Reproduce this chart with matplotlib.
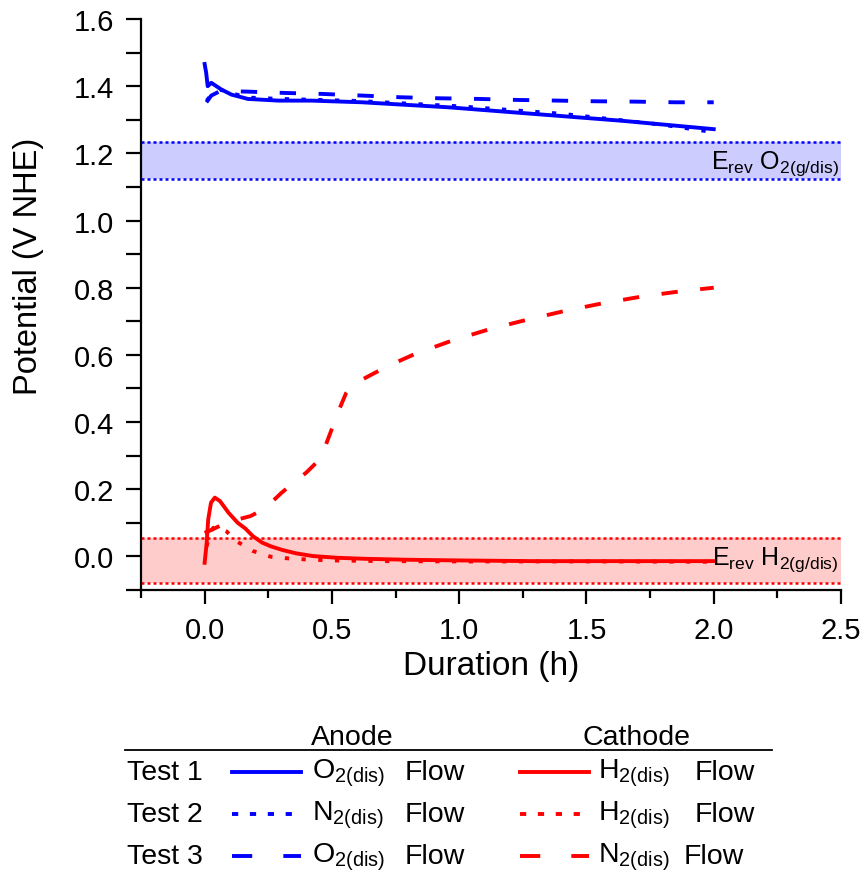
import matplotlib
matplotlib.use("Agg")
import matplotlib.pyplot as plt
from matplotlib.lines import Line2D
from matplotlib.ticker import MultipleLocator, FormatStrFormatter

plt.rcParams['font.family'] = ['Liberation Sans', 'DejaVu Sans']
plt.rcParams['mathtext.fontset'] = 'custom'
plt.rcParams['mathtext.rm'] = 'Liberation Sans'
plt.rcParams['mathtext.it'] = 'Liberation Sans:italic'
plt.rcParams['mathtext.bf'] = 'Liberation Sans:bold'

# ---- data (duration in h, potential in V NHE) ----
t1_anode_t = [0.0, 0.006, 0.012, 0.026, 0.066, 0.105, 0.17, 0.22, 0.29, 0.42, 0.62, 0.96, 1.3, 1.64, 2.0]
t1_anode_v = [1.466, 1.44, 1.40, 1.41, 1.39, 1.375, 1.362, 1.36, 1.357, 1.357, 1.352, 1.337, 1.317, 1.297, 1.272]

t2_anode_t = [0.008, 0.03, 0.06, 0.1, 0.17, 0.3, 0.6, 1.0, 1.4, 1.8, 2.0]
t2_anode_v = [1.357, 1.377, 1.39, 1.38, 1.366, 1.362, 1.356, 1.34, 1.318, 1.285, 1.263]

t3_anode_t = [0.007, 0.026, 0.06, 0.16, 0.31, 0.46, 0.62, 0.77, 0.92, 1.08, 1.23, 1.39, 1.54, 1.69, 1.85, 2.0]
t3_anode_v = [1.352, 1.372, 1.385, 1.384, 1.38, 1.377, 1.372, 1.367, 1.364, 1.362, 1.359, 1.357, 1.355, 1.354, 1.352, 1.352]

t1_cathode_t = [0.0, 0.008, 0.014, 0.025, 0.04, 0.06, 0.094, 0.13, 0.16, 0.19, 0.226, 0.26, 0.306, 0.36,
                0.426, 0.52, 0.625, 0.8, 1.0, 1.29, 1.6, 2.0]
t1_cathode_v = [-0.019, 0.04, 0.11, 0.16, 0.175, 0.165, 0.13, 0.10, 0.083, 0.06, 0.041, 0.03, 0.019, 0.009,
                0.001, -0.004, -0.007, -0.01, -0.012, -0.014, -0.014, -0.014]

t2_cathode_t = [0.008, 0.02, 0.034, 0.05, 0.085, 0.13, 0.19, 0.26, 0.33, 0.4, 0.5, 0.7, 1.0, 1.5, 2.0]
t2_cathode_v = [0.03, 0.07, 0.085, 0.088, 0.075, 0.043, 0.016, -0.001, -0.006, -0.009, -0.012, -0.014, -0.015, -0.015, -0.016]

t3_cathode_t = [0.0, 0.03, 0.09, 0.18, 0.236, 0.30, 0.347, 0.40, 0.44, 0.47, 0.50, 0.53, 0.555, 0.59, 0.665, 0.718,
                0.824, 0.97, 1.117, 1.263, 1.416, 1.566, 1.72, 1.867, 2.0]
t3_cathode_v = [0.07, 0.08, 0.102, 0.12, 0.142, 0.188, 0.218, 0.25, 0.28, 0.32, 0.38, 0.44, 0.485, 0.515, 0.545, 0.566,
                0.602, 0.642, 0.676, 0.704, 0.731, 0.754, 0.774, 0.789, 0.80]

# reversible potential bands
erev_o2_band = [1.125, 1.234]
erev_h2_band = [-0.078, 0.054]

BLUE = '#0000ff'
RED = '#ff0000'
LW = 2.8
DASH = (0, (4.2, 5.8))
DOT = (0, (1.1, 3.2))

W, H = 861, 879
fig = plt.figure(figsize=(W / 100, H / 100), dpi=100)
ax = fig.add_axes([141 / W, 1 - 591 / H, 700 / W, 571 / H])

# bands
for band, fc, ec in [(erev_o2_band, '#ccccff', BLUE), (erev_h2_band, '#ffcccc', RED)]:
    ax.axhspan(band[0], band[1], color=fc, lw=0, zorder=1)
    for yv in band:
        ax.axhline(yv, color=ec, lw=1.8, ls=(0, (1.2, 1.2)), zorder=2)

ax.plot(t1_anode_t, t1_anode_v, color=BLUE, lw=LW, zorder=3)
ax.plot(t2_anode_t, t2_anode_v, color=BLUE, lw=LW, ls=DOT, zorder=3)
ax.plot(t3_anode_t, t3_anode_v, color=BLUE, lw=LW, ls=DASH, zorder=3)
ax.plot(t1_cathode_t, t1_cathode_v, color=RED, lw=LW, zorder=3)
ax.plot(t2_cathode_t, t2_cathode_v, color=RED, lw=LW, ls=DOT, zorder=3)
ax.plot(t3_cathode_t, t3_cathode_v, color=RED, lw=LW, ls=DASH, zorder=3)

ax.text(2.49, 1.172, r'E$_{\mathrm{rev}}$ O$_{\mathrm{2(g/dis)}}$', ha='right', va='center', fontsize=18, zorder=4)
ax.text(2.49, -0.006, r'E$_{\mathrm{rev}}$ H$_{\mathrm{2(g/dis)}}$', ha='right', va='center', fontsize=18, zorder=4)

ax.set_xlim(-0.25, 2.5)
ax.set_ylim(-0.1, 1.6)
ax.xaxis.set_major_locator(MultipleLocator(0.5))
ax.xaxis.set_minor_locator(MultipleLocator(0.25))
ax.yaxis.set_major_locator(MultipleLocator(0.2))
ax.yaxis.set_minor_locator(MultipleLocator(0.1))
ax.xaxis.set_major_formatter(FormatStrFormatter('%.1f'))
ax.yaxis.set_major_formatter(FormatStrFormatter('%.1f'))
ax.spines['top'].set_visible(False)
ax.spines['right'].set_visible(False)
for s in ('left', 'bottom'):
    ax.spines[s].set_linewidth(1.6)
ax.tick_params(axis='x', which='major', direction='out', length=10, width=1.6, labelsize=21, pad=9)
ax.tick_params(axis='x', which='minor', direction='out', length=5.5, width=1.6)
ax.tick_params(axis='y', which='major', direction='out', length=10.5, width=1.6, labelsize=21, pad=9)
ax.tick_params(axis='y', which='minor', direction='out', length=10.5, width=1.6)
ax.set_xlabel('Duration (h)', fontsize=24, labelpad=4)
ax.set_ylabel('Potential (V NHE)', fontsize=23.5, va='center')
ax.yaxis.set_label_coords((29 - 141) / 700, (591 - 266) / 571)


# ---- key below the axes ----
def fx(px):
    return px / W


def fy(py):
    return 1 - py / H


fs = 20.5
fig.text(fx(352), fy(738), 'Anode', ha='center', va='center', fontsize=fs)
fig.text(fx(636), fy(738), 'Cathode', ha='center', va='center', fontsize=fs)
fig.add_artist(Line2D([fx(125), fx(772)], [fy(751), fy(751)], color='black', lw=1.3,
                      transform=fig.transFigure))

KEY_DOT = (0, (1.6, 3.0))
KEY_DASH = (0, (5.2, 8.0))
rows = [
    ('Test 1', '-', r'O$_{\mathrm{2(dis)}}$', '-', r'H$_{\mathrm{2(dis)}}$', 695),
    ('Test 2', KEY_DOT, r'N$_{\mathrm{2(dis)}}$', KEY_DOT, r'H$_{\mathrm{2(dis)}}$', 695),
    ('Test 3', KEY_DASH, r'O$_{\mathrm{2(dis)}}$', KEY_DASH, r'N$_{\mathrm{2(dis)}}$', 684),
]
row_y = [773, 815, 857]
for (name, ls_k, lab_a, ls_c, lab_c, flow_x), py in zip(rows, row_y):
    fig.text(fx(127), fy(py), name, ha='left', va='center', fontsize=fs)
    fig.add_artist(Line2D([fx(232), fx(301)], [fy(py), fy(py)], color=BLUE, lw=LW, ls=ls_k,
                          transform=fig.transFigure))
    fig.text(fx(312), fy(py), lab_a, ha='left', va='center', fontsize=fs)
    fig.text(fx(405), fy(py), 'Flow', ha='left', va='center', fontsize=fs)
    fig.add_artist(Line2D([fx(520), fx(589)], [fy(py), fy(py)], color=RED, lw=LW, ls=ls_c,
                          transform=fig.transFigure))
    fig.text(fx(598), fy(py), lab_c, ha='left', va='center', fontsize=fs)
    fig.text(fx(flow_x), fy(py), 'Flow', ha='left', va='center', fontsize=fs)

fig.savefig('out.png', dpi=100)
